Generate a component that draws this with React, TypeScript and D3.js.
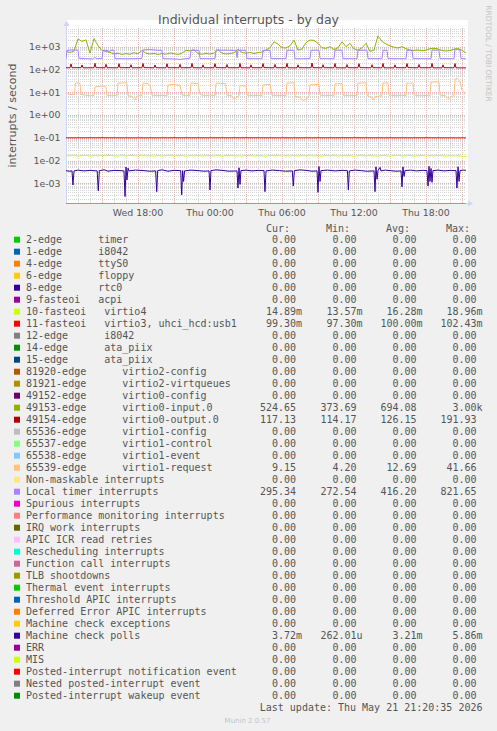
import React from 'react';
import * as d3 from 'd3';

const W = 497;
const H = 731;
const START = new Date(2026, 4, 20, 12, 0, 0);
const END = new Date(2026, 4, 21, 21, 20, 0);
const STEP_H = 1 / 3; // 20-minute samples for the sampled arrays

const title = 'Individual interrupts - by day';
const yLabel = 'interrupts / second';
const sideLabel = 'RRDTOOL / TOBI OETIKER';
const lastUpdate = 'Last update: Thu May 21 21:20:35 2026';
const version = 'Munin 2.0.57';
const headers = ['Cur:', 'Min:', 'Avg:', 'Max:'];
const decades = [-3, -2, -1, 0, 1, 2, 3];

const legendLabels = [
  '2-edge      timer',
  '1-edge      i8042',
  '4-edge      ttyS0',
  '6-edge      floppy',
  '8-edge      rtc0',
  '9-fasteoi   acpi',
  '10-fasteoi   virtio4',
  '11-fasteoi   virtio3, uhci_hcd:usb1',
  '12-edge      i8042',
  '14-edge      ata_piix',
  '15-edge      ata_piix',
  '81920-edge      virtio2-config',
  '81921-edge      virtio2-virtqueues',
  '49152-edge      virtio0-config',
  '49153-edge      virtio0-input.0',
  '49154-edge      virtio0-output.0',
  '65536-edge      virtio1-config',
  '65537-edge      virtio1-control',
  '65538-edge      virtio1-event',
  '65539-edge      virtio1-request',
  'Non-maskable interrupts',
  'Local timer interrupts',
  'Spurious interrupts',
  'Performance monitoring interrupts',
  'IRQ work interrupts',
  'APIC ICR read retries',
  'Rescheduling interrupts',
  'Function call interrupts',
  'TLB shootdowns',
  'Thermal event interrupts',
  'Threshold APIC interrupts',
  'Deferred Error APIC interrupts',
  'Machine check exceptions',
  'Machine check polls',
  'ERR',
  'MIS',
  'Posted-interrupt notification event',
  'Nested posted-interrupt event',
  'Posted-interrupt wakeup event',
];

const legendColors = [
  '#00CC00', '#0066B3', '#FF8000', '#FFCC00', '#330099', '#990099', '#CCFF00', '#FF0000',
  '#808080', '#008F00', '#00487D', '#B35A00', '#B38F00', '#6B006B', '#8FB300', '#B30000',
  '#BEBEBE', '#80FF80', '#80C9FF', '#FFC080', '#FFE680', '#AA80FF', '#EE00CC', '#FF8080',
  '#666600', '#FFBFFF', '#00FFCC', '#CC6699', '#999900', '#00CC00', '#0066B3', '#FF8000',
  '#FFCC00', '#330099', '#990099', '#CCFF00', '#FF0000', '#808080', '#008F00',
];

const Z = '0.00';
const curVals = [Z, Z, Z, Z, Z, Z, '14.89m', '99.30m', Z, Z, Z, Z, Z, Z, '524.65', '117.13', Z, Z, Z, '9.15', Z, '295.34', Z, Z, Z, Z, Z, Z, Z, Z, Z, Z, Z, '3.72m', Z, Z, Z, Z, Z];
const minVals = [Z, Z, Z, Z, Z, Z, '13.57m', '97.30m', Z, Z, Z, Z, Z, Z, '373.69', '114.17', Z, Z, Z, '4.20', Z, '272.54', Z, Z, Z, Z, Z, Z, Z, Z, Z, Z, Z, '262.01u', Z, Z, Z, Z, Z];
const avgVals = [Z, Z, Z, Z, Z, Z, '16.28m', '100.00m', Z, Z, Z, Z, Z, Z, '694.08', '126.15', Z, Z, Z, '12.69', Z, '416.20', Z, Z, Z, Z, Z, Z, Z, Z, Z, Z, Z, '3.21m', Z, Z, Z, Z, Z];
const maxVals = [Z, Z, Z, Z, Z, Z, '18.96m', '102.43m', Z, Z, Z, Z, Z, Z, '3.00k', '191.93', Z, Z, Z, '41.66', Z, '821.65', Z, Z, Z, Z, Z, Z, Z, Z, Z, Z, Z, '5.86m', Z, Z, Z, Z, Z];

// 10-fasteoi virtio4, 20-minute samples
const virtio4 = [
  0.0168, 0.0161, 0.0172, 0.0158, 0.0165, 0.0170, 0.0157, 0.0166, 0.0162, 0.0174,
  0.0159, 0.0167, 0.0163, 0.0156, 0.0171, 0.0160, 0.0168, 0.0164, 0.0158, 0.0173,
  0.0162, 0.0166, 0.0157, 0.0169, 0.0161, 0.0165, 0.0170, 0.0159, 0.0163, 0.0167,
  0.0155, 0.0168, 0.0162, 0.0171, 0.0158, 0.0164, 0.0166, 0.0160, 0.0172, 0.0157,
  0.0165, 0.0169, 0.0161, 0.0163, 0.0158, 0.0170, 0.0164, 0.0160, 0.0167, 0.0162,
  0.0156, 0.0168, 0.0163, 0.0171, 0.0159, 0.0165, 0.0161, 0.0169, 0.0158, 0.0166,
  0.0162, 0.0173, 0.0160, 0.0164, 0.0157, 0.0168, 0.0163, 0.0170, 0.0159, 0.0165,
  0.0161, 0.0167, 0.0156, 0.0164, 0.0170, 0.0160, 0.0166, 0.0162, 0.0158, 0.0169,
  0.0163, 0.0157, 0.0165, 0.0171, 0.0160, 0.0164, 0.0167, 0.0159, 0.0162, 0.0168,
  0.0158, 0.0165, 0.0161, 0.0170, 0.0163, 0.0157, 0.0166, 0.0160, 0.0164, 0.0155, 0.0149,
];

// 11-fasteoi virtio3, [hour, value]
const virtio3: [number, number][] = [
  [0, 0.0998], [3, 0.1002], [6, 0.0995], [9, 0.1001], [12, 0.0999], [15, 0.1003],
  [18, 0.0997], [21, 0.1], [24, 0.1002], [27, 0.0996], [30, 0.1001], [33.33, 0.0993],
];

// 49153-edge virtio0-input.0, 20-minute samples
const virtio0Input = [
  620, 560, 640,
  2200, 1700, 2000, 520, 2300, 1100,
  680, 620, 560, 480, 520, 460,
  500, 470, 540, 490, 680, 520,
  480, 510, 460, 500, 470, 530,
  490, 460, 520, 700, 650, 720,
  500, 470, 510, 480, 520, 740,
  520, 480, 500, 540, 760, 560,
  520, 560, 500, 550, 580, 720,
  900, 1650, 1300, 900, 880, 1100, 1950, 700,
  800, 1500, 1950, 1900, 1400, 900, 850, 1000, 750, 900, 1650, 1000, 1400,
  800, 700, 900, 1400, 620, 720,
  3000, 1700, 1300, 1100, 950, 880, 1000, 820, 700, 680, 720, 660, 700, 820, 850, 800, 680, 650, 670, 780, 820, 700, 524,
];

// 49154-edge virtio0-output.0, [hour, value]
const virtio0Output: [number, number][] = [
  [0, 119], [0.33, 118], [0.42, 175], [0.5, 119],
  [1.25, 120], [1.33, 158], [1.42, 118],
  [2.33, 119], [2.42, 186], [2.5, 120],
  [3.25, 118], [3.33, 168], [3.42, 119],
  [4.33, 118], [4.42, 180], [4.5, 119],
  [5.33, 120], [5.42, 162], [5.5, 118],
  [6.33, 119], [6.42, 184], [6.5, 120],
  [7.33, 118], [7.42, 158], [7.5, 119],
  [8.33, 118], [8.42, 178], [8.5, 119],
  [9.42, 119], [9.5, 168], [9.58, 118],
  [10.42, 120], [10.5, 185], [10.58, 119],
  [11.33, 118], [11.42, 160], [11.5, 119],
  [12.33, 119], [12.42, 180], [12.5, 120],
  [13.33, 118], [13.42, 165], [13.5, 119],
  [14.42, 119], [14.5, 184], [14.58, 118],
  [15.33, 118], [15.42, 160], [15.5, 119],
  [16.33, 119], [16.42, 182], [16.5, 120],
  [17.33, 118], [17.42, 166], [17.5, 119],
  [18.33, 119], [18.42, 185], [18.5, 118],
  [19.25, 118], [19.33, 160], [19.42, 119],
  [20.42, 119], [20.5, 192], [20.58, 120],
  [21.33, 118], [21.42, 162], [21.5, 119],
  [22.33, 119], [22.42, 183], [22.5, 118],
  [23.33, 118], [23.42, 164], [23.5, 119],
  [24.33, 119], [24.42, 180], [24.5, 120],
  [25.42, 118], [25.5, 162], [25.58, 119],
  [26.33, 119], [26.42, 184], [26.5, 118],
  [27.33, 118], [27.42, 160], [27.5, 119],
  [28.33, 119], [28.42, 182], [28.5, 120],
  [29.33, 118], [29.42, 165], [29.5, 119],
  [30.42, 119], [30.5, 185], [30.58, 118],
  [31.33, 118], [31.42, 160], [31.5, 119],
  [32.33, 119], [32.42, 182], [32.5, 118],
  [33.33, 117.13],
];

// 65539-edge virtio1-request, [hour, value]
const virtio1Request: [number, number][] = [
  [0, 9.2], [0.33, 8], [0.7, 8], [0.78, 25], [1.0, 26], [1.17, 24], [1.25, 8],
  [1.6, 7.5], [2.0, 7], [2.33, 7.2], [2.42, 17], [2.8, 18], [3.0, 19], [3.33, 17], [3.42, 7.5],
  [3.8, 7], [4.25, 7.3], [4.33, 25], [5.0, 26], [5.08, 24], [5.17, 7],
  [5.5, 6.5], [5.75, 4.5], [5.9, 6.8], [6.33, 7.2], [6.42, 25], [6.83, 24], [7.0, 20], [7.17, 7.5],
  [7.6, 7], [8.0, 7.3], [8.42, 7], [8.5, 21], [9.0, 22], [9.5, 20], [9.67, 7.5],
  [10.0, 7], [10.33, 7.3], [10.42, 25], [11.0, 24], [11.17, 8],
  [11.6, 7], [12.0, 7.5], [12.42, 7], [12.5, 25], [13.3, 24], [13.42, 7.5],
  [13.8, 7], [14.0, 4.8], [14.2, 6], [14.42, 7], [14.5, 20], [15.0, 18], [15.08, 7.5],
  [15.6, 7], [16.0, 7.3], [16.33, 7], [16.42, 21], [17.0, 22], [17.17, 7.5],
  [17.6, 7], [18.0, 7.3], [18.33, 7], [18.42, 25], [19.0, 26], [19.08, 6.5],
  [19.5, 6], [19.75, 4.3], [20.0, 5], [20.25, 7], [20.33, 21], [21.08, 22], [21.17, 7.5],
  [21.6, 7], [22.0, 7.3], [22.33, 7], [22.42, 23], [23.0, 24], [23.08, 7.5],
  [23.6, 7], [24.0, 7.3], [24.25, 7], [24.33, 25], [25.0, 26], [25.08, 7],
  [25.4, 6.5], [25.6, 4.5], [25.8, 6.5], [26.33, 7], [26.42, 25], [26.83, 26], [26.92, 7.5],
  [27.5, 7], [28.0, 7.3], [28.33, 7], [28.42, 25], [28.92, 25], [29.0, 7.5],
  [29.5, 7], [30.0, 7.2], [30.33, 7], [30.42, 28], [31.08, 29], [31.17, 7.5],
  [31.6, 7], [31.9, 5], [32.1, 6.5], [32.33, 7], [32.42, 36], [32.6, 41], [32.83, 30],
  [33.0, 12], [33.17, 10], [33.33, 9.15],
];

// Local timer interrupts, [hour, value]
const localTimer: [number, number][] = [
  [0, 300], [0.08, 690], [0.5, 720], [1.0, 700], [1.08, 310], [1.6, 300], [2.2, 290], [2.4, 330],
  [2.6, 300], [3.0, 305], [3.08, 700], [3.5, 680], [3.6, 560], [3.7, 690], [4.0, 700], [4.08, 300],
  [5.0, 295], [6.0, 300], [6.33, 305], [6.42, 720], [7.0, 750], [7.5, 700], [8.0, 690], [8.08, 300],
  [9.0, 290], [9.5, 275], [10.0, 300], [10.33, 310], [10.42, 700], [11.08, 690], [11.17, 300],
  [12.0, 295], [12.42, 300], [12.5, 710], [13.5, 700], [14.17, 690], [14.25, 330], [14.33, 700],
  [15.0, 690], [15.08, 300], [16.33, 295], [16.42, 680], [17.0, 690], [17.08, 300],
  [18.33, 300], [18.42, 700], [19.0, 690], [19.08, 295], [20.33, 300], [20.42, 690], [21.08, 700],
  [21.17, 300], [22.33, 295], [22.42, 710], [23.0, 700], [23.08, 300], [24.25, 295], [24.33, 690],
  [25.08, 700], [25.17, 300], [26.33, 300], [26.42, 700], [26.75, 690], [26.83, 300],
  [28.33, 295], [28.42, 690], [28.83, 700], [28.92, 300], [30.42, 295], [30.5, 710], [31.08, 700],
  [31.17, 300], [32.33, 295], [32.42, 800], [32.83, 720], [32.92, 300], [33.33, 295],
];

// Machine check polls, [hour, value]
const mcPolls: [number, number][] = [
  [0, 3.6e-3], [0.25, 3.4e-3], [0.5, 3.5e-3], [0.58, 8.4e-4], [0.67, 3.5e-3], [1.0, 3.8e-3], [1.5, 3.5e-3],
  [2.0, 3.7e-3], [2.6, 3.5e-3], [2.69, 4.7e-4], [2.78, 3.6e-3], [3.2, 3.9e-3], [3.5, 3.4e-3], [4.0, 3.7e-3],
  [4.5, 3.6e-3], [4.83, 3.5e-3], [4.92, 2.62e-4], [5.0, 5.2e-3], [5.08, 1.4e-3], [5.17, 4.6e-3], [5.25, 3.5e-3],
  [5.8, 3.8e-3], [6.5, 3.6e-3], [7.0, 3.4e-3], [7.47, 3.5e-3], [7.56, 4.3e-4], [7.64, 3.6e-3], [8.0, 3.9e-3],
  [8.5, 3.4e-3], [9.0, 3.7e-3], [9.56, 3.6e-3], [9.64, 3.1e-4], [9.72, 3.6e-3], [9.8, 1.2e-3], [9.88, 3.5e-3],
  [10.4, 3.8e-3], [11.0, 3.6e-3], [11.5, 3.4e-3], [11.92, 3.5e-3], [12.0, 5.1e-4], [12.08, 3.6e-3],
  [12.5, 3.9e-3], [13.0, 3.7e-3], [13.6, 3.4e-3], [14.25, 3.5e-3], [14.33, 6.2e-4], [14.42, 4.8e-3],
  [14.5, 9e-4], [14.58, 3.6e-3], [15.0, 3.8e-3], [15.5, 3.5e-3], [16.0, 3.7e-3], [16.5, 3.6e-3],
  [16.58, 4.3e-4], [16.67, 3.5e-3], [17.2, 3.8e-3], [17.8, 3.6e-3], [18.3, 3.4e-3], [18.86, 3.5e-3],
  [18.94, 7.6e-4], [19.03, 3.6e-3], [19.5, 3.9e-3], [20.0, 3.7e-3], [20.5, 3.4e-3], [20.92, 3.5e-3],
  [21.0, 4.0e-4], [21.08, 5.5e-3], [21.17, 1.2e-3], [21.25, 3.6e-3], [21.8, 3.8e-3], [22.4, 3.5e-3],
  [23.0, 3.7e-3], [23.45, 3.6e-3], [23.53, 5.1e-4], [23.61, 3.5e-3], [24.1, 3.8e-3], [24.6, 3.6e-3],
  [25.1, 3.4e-3], [25.67, 3.5e-3], [25.75, 4.3e-4], [25.83, 5.3e-3], [25.92, 1.5e-3], [26.0, 3.6e-3],
  [26.17, 5.0e-3], [26.25, 3.5e-3], [26.6, 3.8e-3], [27.0, 3.6e-3], [27.5, 3.4e-3], [27.92, 3.5e-3],
  [28.0, 7.0e-4], [28.08, 5.3e-3], [28.17, 2.0e-3], [28.25, 3.6e-3], [28.7, 3.8e-3], [29.2, 3.5e-3],
  [29.7, 3.7e-3], [30.08, 3.6e-3], [30.17, 7.6e-4], [30.25, 5.6e-3], [30.33, 1.2e-3], [30.42, 4.5e-3],
  [30.5, 1.1e-3], [30.58, 3.6e-3], [31.0, 3.8e-3], [31.5, 3.5e-3], [32.0, 3.7e-3], [32.5, 3.6e-3],
  [32.58, 6.2e-4], [32.67, 5.3e-3], [32.75, 1.2e-3], [32.83, 3.6e-3], [33.1, 3.8e-3], [33.33, 3.72e-3],
];

const sampled = (vals: number[]): [number, number][] => vals.map((v, i) => [i * STEP_H, v]);

// legend index -> plotted data
const plotted: { idx: number; pts: [number, number][] }[] = [
  { idx: 6, pts: sampled(virtio4) },
  { idx: 7, pts: virtio3 },
  { idx: 14, pts: sampled(virtio0Input) },
  { idx: 15, pts: virtio0Output },
  { idx: 19, pts: virtio1Request },
  { idx: 21, pts: localTimer },
  { idx: 33, pts: mcPolls },
];

const hToDate = (h: number) => new Date(START.getTime() + h * 3600000);
const expLabel = (e: number) => `1e${e < 0 ? '-' : '+'}${String(Math.abs(e)).padStart(2, '0')}`;

export default function App() {
  const left = 66, right = 466, top = 28, bottom = 203;
  const x = d3.scaleTime().domain([START, END]).range([left, right]);
  const y = d3.scaleLog().domain([Math.pow(10, -3.865), Math.pow(10, 3.821)]).range([bottom, top]);
  const line = d3.line<[number, number]>()
    .x((d) => x(hToDate(d[0])))
    .y((d) => y(d[1]));

  const hours = d3.timeHour.every(1)!.range(START, new Date(END.getTime() + 1));
  const minorV = hours.filter((d) => d.getHours() % 3 !== 0);
  const majorV = hours.filter((d) => d.getHours() % 3 === 0 && d > START);
  const labelTicks = hours.filter((d) => d.getHours() % 6 === 0 && d > START);
  const fmt = d3.timeFormat('%a %H:%M');

  const [y0, y1] = y.domain();
  const minorH: number[] = [];
  for (let k = -4; k <= 3; k++) {
    for (let m = 2; m <= 9; m++) {
      const v = m * Math.pow(10, k);
      if (v > y0 && v < y1) minorH.push(v);
    }
  }

  const grey = '#555555';
  const mono = '"DejaVu Sans Mono", monospace';
  const sans = '"DejaVu Sans", sans-serif';
  const colEnds = [296, 356.5, 416.5, 476.5];
  const headerX = [266, 326, 386, 446];
  const rowY = (i: number) => 239.7 + i * 12;
  const cols = [curVals, minVals, avgVals, maxVals];

  const splitVal = (s: string) => {
    const last = s[s.length - 1];
    return /[a-zA-Z]/.test(last) ? [s.slice(0, -1), last] : [s, ''];
  };

  return (
    <svg width={W} height={H} style={{ position: 'absolute', left: 0, top: 0 }} xmlns="http://www.w3.org/2000/svg">
      <defs>
        <clipPath id="plotclip">
          <rect x={left} y={top - 6} width={right - left + 1} height={bottom - top + 6} />
        </clipPath>
      </defs>
      <rect x={0} y={0} width={W} height={H} fill="#F0F0F0" />
      <rect x={left} y={20} width={right - left + 2} height={bottom - 20} fill="#FFFFFF" />

      {/* grid */}
      <g shapeRendering="crispEdges" strokeDasharray="1,1" strokeWidth={1}>
        {minorH.map((v, i) => (
          <line key={'mh' + i} x1={left} x2={right} y1={Math.round(y(v)) + 0.5} y2={Math.round(y(v)) + 0.5} stroke="#d6d6d6" />
        ))}
        {minorV.map((d, i) => (
          <line key={'mv' + i} x1={Math.round(x(d)) + 0.5} x2={Math.round(x(d)) + 0.5} y1={top} y2={bottom} stroke="#d6d6d6" />
        ))}
        {decades.map((e) => (
          <line key={'Mh' + e} x1={left} x2={right} y1={Math.round(y(Math.pow(10, e))) + 0.5} y2={Math.round(y(Math.pow(10, e))) + 0.5} stroke="#e9b3b3" />
        ))}
        {majorV.map((d, i) => (
          <line key={'Mv' + i} x1={Math.round(x(d)) + 0.5} x2={Math.round(x(d)) + 0.5} y1={top} y2={bottom} stroke="#e9b3b3" />
        ))}
      </g>

      {/* axes */}
      <g>
        <line x1={left + 0.5} x2={left + 0.5} y1={bottom + 1} y2={24} stroke="#CFD6F8" />
        <polygon points={`${left - 2.5},26 ${left + 3.5},26 ${left + 0.5},20.5`} fill="#CFD6F8" />
        <line x1={left} x2={right + 2} y1={bottom + 0.5} y2={bottom + 0.5} stroke="#CFD6F8" />
        <polygon points={`${right + 2},${bottom - 2.5} ${right + 2},${bottom + 3.5} ${right + 7},${bottom + 0.5}`} fill="#CFD6F8" />
      </g>

      {/* zero-valued series clipped at the bottom */}
      <line x1={x(START)} x2={x(END)} y1={y(y0) + 0.5} y2={y(y0) + 0.5} stroke="#008F00" strokeOpacity={0.45} />

      {/* series */}
      <g clipPath="url(#plotclip)" fill="none" strokeWidth={1} strokeLinejoin="round">
        {plotted.map((s) => (
          <path key={s.idx} d={line(s.pts) || ''} stroke={legendColors[s.idx]} />
        ))}
      </g>

      {/* y ticks */}
      <g fontFamily={sans} fontSize={9.4} fill={grey}>
        {decades.map((e) => (
          <text key={e} x={60.5} y={y(Math.pow(10, e)) + 3.4} textAnchor="end">{expLabel(e)}</text>
        ))}
        {labelTicks.map((d, i) => (
          <text key={i} x={x(d)} y={215.6} textAnchor="middle">{fmt(d)}</text>
        ))}
      </g>

      {/* titles */}
      <text x={248.5} y={24} textAnchor="middle" fontFamily={sans} fontSize={12.5} fill={grey}>{title}</text>
      <text transform={`translate(15.5,${(top + bottom) / 2}) rotate(-90)`} textAnchor="middle" fontFamily={sans} fontSize={11} fill={grey}>{yLabel}</text>
      <text transform="translate(485.5,53.5) rotate(90)" textAnchor="middle" fontFamily={sans} fontSize={7.5} fill="#c4c4c4">{sideLabel}</text>

      {/* legend */}
      <g fontFamily={mono} fontSize={10} fill={grey}>
        {headers.map((h, i) => (
          <text key={h} x={headerX[i]} y={231.9}>{h}</text>
        ))}
        {legendLabels.map((lab, i) => (
          <g key={i}>
            <rect x={14} y={rowY(i) - 3} width={6} height={6} fill={legendColors[i]} />
            <text x={26} y={rowY(i) + 3.6} xmlSpace="preserve" style={{ whiteSpace: 'pre' }}>{lab}</text>
            {cols.map((col, c) => {
              const [num, suf] = splitVal(col[i]);
              return (
                <g key={c}>
                  <text x={colEnds[c]} y={rowY(i) + 3.6} textAnchor="end">{num}</text>
                  {suf ? <text x={colEnds[c]} y={rowY(i) + 3.6}>{suf}</text> : null}
                </g>
              );
            })}
          </g>
        ))}
        <text x={482.5} y={711.3} textAnchor="end">{lastUpdate}</text>
      </g>
      <text x={247.5} y={722.5} textAnchor="middle" fontFamily={sans} fontSize={7} fill="#c4c4c4">{version}</text>
    </svg>
  );
}
